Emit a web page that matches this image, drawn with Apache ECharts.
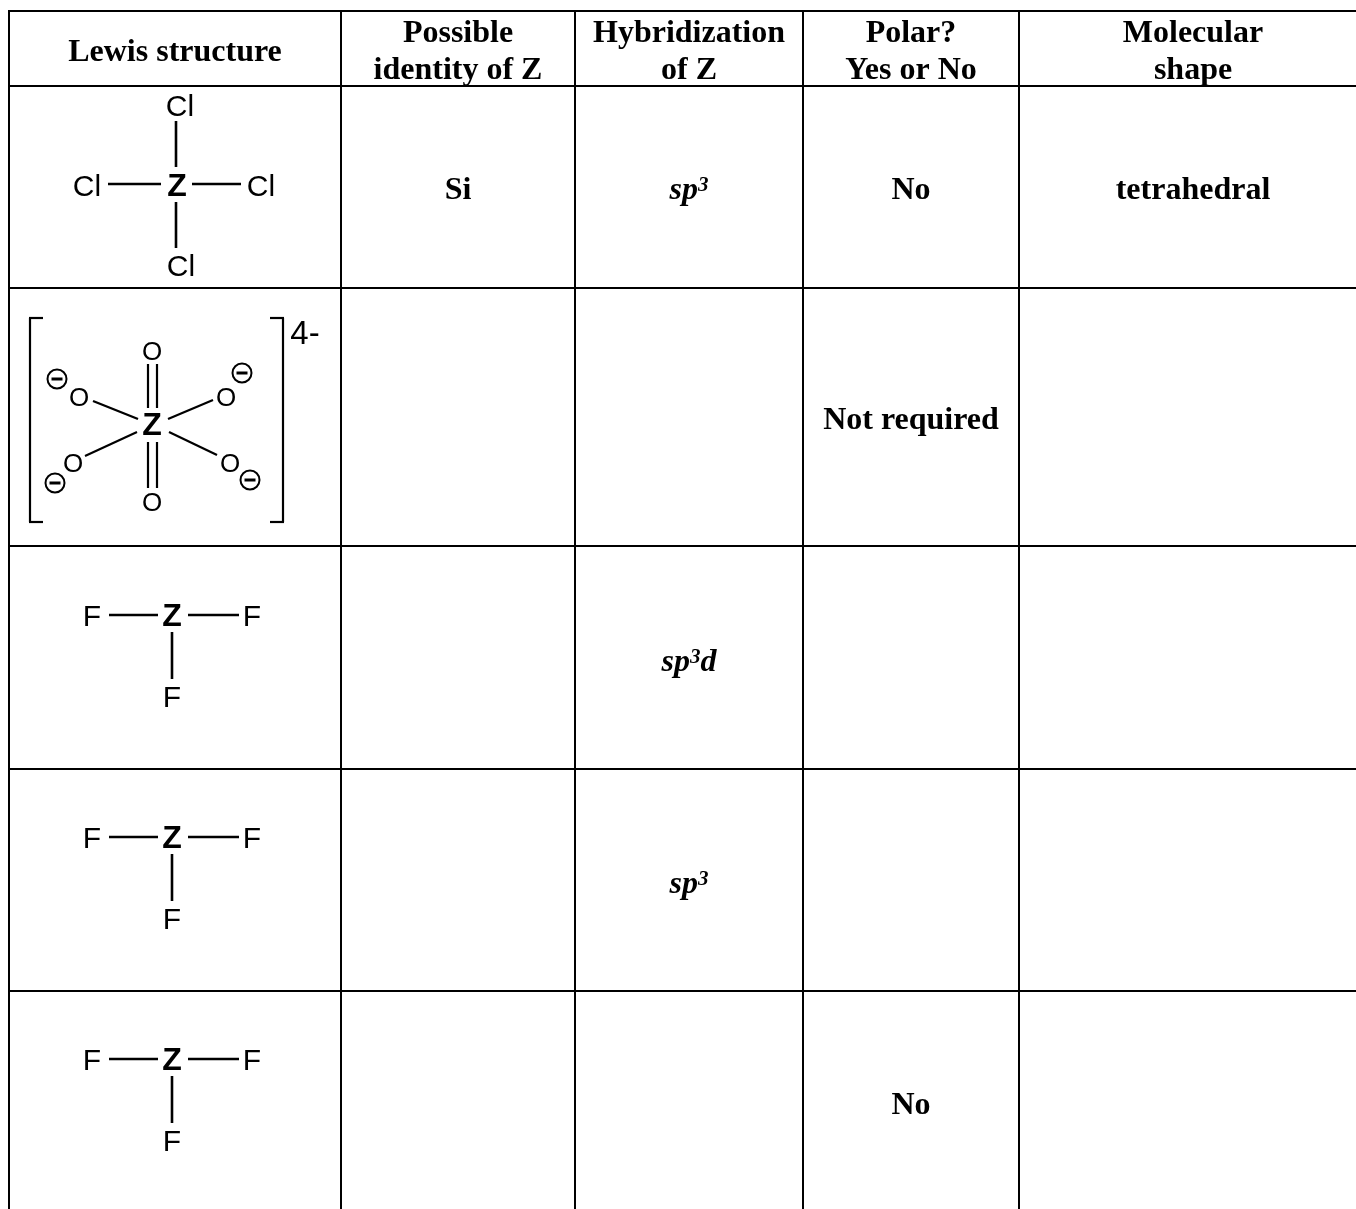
<!DOCTYPE html>
<html>
<head>
<meta charset="utf-8">
<style>html,body{margin:0;padding:0;background:#fff}#chart{width:1356px;height:1209px}</style>
<script src="https://cdn.jsdelivr.net/npm/echarts@6/dist/echarts.min.js"></script>
</head>
<body>
<div id="chart"></div>
<script>
// ---- Table content ----
const headers = [['Lewis structure'], ['Possible', 'identity of Z'], ['Hybridization', 'of Z'], ['Polar?', 'Yes or No'], ['Molecular', 'shape']];
const possibleIdentity = ['Si', '', '', '', ''];
const hybridization = ['sp3', '', 'sp3d', 'sp3', ''];
const polarity = ['No', 'Not required', '', '', 'No'];
const molecularShape = ['tetrahedral', '', '', '', ''];
const chlorideLabels = ['Cl', 'Cl', 'Cl', 'Cl', 'Z'];
const oxoLabels = ['O', 'O', 'O', 'O', 'O', 'O', 'Z'];
const fluorideLabels = ['F', 'F', 'F', 'Z'];
const chargeLabel = '4-';

// ---- Layout (separate from content), in picture units ----
const W = 1356, H = 1209;
const colLines = [9, 341, 575, 803, 1019];
const rowLines = [11, 86, 288, 546, 769, 991];
const colCentres = [175, 458, 689, 911, 1193];
const rowCentres = [191, 421, 663, 885, 1106];
const headerLineY = [34, 71], headerSingleY = 53;
const chloridePos = [[180, 108], [87, 188], [261, 188], [181, 268], [177, 187]];
const chlorideBonds = [[176, 121, 176, 167], [176, 202, 176, 248], [108, 184, 161, 184], [192, 184, 241, 184]];
const oxoPos = [[152, 353], [152, 504], [79, 399], [226, 399], [73, 465], [230, 465], [152, 426]];
const oxoBonds = [[148, 364, 148, 408], [157, 364, 157, 408], [148, 442, 148, 488], [157, 442, 157, 488],
  [93, 401, 138, 419], [168, 419, 213, 400], [85, 456, 137, 432], [169, 432, 217, 455]];
const bracketPaths = [[43, 318, 29, 318], [30, 318, 30, 522], [29, 522, 43, 522], [270, 318, 284, 318], [283, 318, 283, 522], [284, 522, 270, 522]];
const chargeCircles = [[57, 379], [242, 373], [55, 483], [250, 480]];
const chargePos = [305, 335];
const fluorideOffsets = [0, 222, 444];
const fluoridePos = [[92, 618], [252, 618], [172, 699], [172, 617]];
const fluorideBonds = [[109, 615, 158, 615], [188, 615, 239, 615], [172, 632, 172, 679]];

const SERIF = '"Liberation Serif","Times New Roman",serif';
const SANS = '"Liberation Sans",Arial,sans-serif';
const CELL_FONT = 32, SUP_FONT = 21;

// ---- Assemble series rows ----
const gridSegs = [];
colLines.forEach(x => gridSegs.push([x, 10, x, H]));
rowLines.forEach(y => gridSegs.push([8, y, W, y]));

const heavyBonds = [...chlorideBonds];
fluorideOffsets.forEach(d => fluorideBonds.forEach(b => heavyBonds.push([b[0], b[1] + d, b[2], b[3] + d])));
const lightBonds = [...oxoBonds, ...bracketPaths];

const texts = [];
function addAtom(label, p, dy, size) {
  texts.push({ value: [p[0], p[1] + (dy || 0)], text: label, family: SANS, size: label === 'Z' ? 32 : size, weight: label === 'Z' ? 'bold' : 'normal' });
}
headers.forEach((lines, c) => {
  lines.forEach((t, i) => texts.push({ value: [colCentres[c], lines.length === 1 ? headerSingleY : headerLineY[i]], text: t, family: SERIF, size: CELL_FONT, weight: 'bold' }));
});
[possibleIdentity, hybridization, polarity, molecularShape].forEach((col, c) => {
  col.forEach((t, r) => {
    if (!t) return;
    if (col === hybridization) {
      const m = t.match(/^sp3(d?)$/);
      texts.push({ value: [colCentres[c + 1], rowCentres[r]], text: '{i|sp}{s|3}' + (m[1] ? '{i|' + m[1] + '}' : ''), family: SERIF, size: CELL_FONT, weight: 'bold', style: 'italic',
        rich: { i: { font: 'italic bold ' + CELL_FONT + 'px ' + SERIF, fill: '#000', verticalAlign: 'bottom' }, s: { font: 'italic bold ' + SUP_FONT + 'px ' + SERIF, fill: '#000', verticalAlign: 'top' } } });
    } else {
      texts.push({ value: [colCentres[c + 1], rowCentres[r]], text: t, family: SERIF, size: CELL_FONT, weight: 'bold' });
    }
  });
});
chlorideLabels.forEach((l, i) => addAtom(l, chloridePos[i], 0, 30));
oxoLabels.forEach((l, i) => addAtom(l, oxoPos[i], 0, 26));
fluorideOffsets.forEach(d => fluorideLabels.forEach((l, i) => addAtom(l, fluoridePos[i], d, 30)));
texts.push({ value: chargePos, text: chargeLabel, family: SANS, size: 33, weight: 'normal' });

const renderSeg = width => (params, api) => {
  const a = api.coord([api.value(0), api.value(1)]);
  const b = api.coord([api.value(2), api.value(3)]);
  return { type: 'line', shape: { x1: a[0], y1: a[1], x2: b[0], y2: b[1] }, style: { stroke: '#000', lineWidth: width, lineCap: 'butt' } };
};

const option = {
  animation: false,
  backgroundColor: '#fff',
  tooltip: { show: false },
  grid: { left: 0, right: 0, top: 0, bottom: 0 },
  xAxis: { type: 'value', min: 0, max: W, show: false },
  yAxis: { type: 'value', min: 0, max: H, inverse: true, show: false },
  series: [
    { type: 'custom', name: 'table lines', coordinateSystem: 'cartesian2d', silent: true, clip: false, data: gridSegs, encode: { x: [0, 2], y: [1, 3] }, renderItem: renderSeg(2) },
    { type: 'custom', name: 'heavy bonds', coordinateSystem: 'cartesian2d', silent: true, clip: false, data: heavyBonds, encode: { x: [0, 2], y: [1, 3] }, renderItem: renderSeg(2.6) },
    { type: 'custom', name: 'oxo bonds and brackets', coordinateSystem: 'cartesian2d', silent: true, clip: false, data: lightBonds, encode: { x: [0, 2], y: [1, 3] }, renderItem: renderSeg(2.2) },
    { type: 'custom', name: 'charges', coordinateSystem: 'cartesian2d', silent: true, clip: false, data: chargeCircles, encode: { x: 0, y: 1 },
      renderItem(params, api) {
        const c = api.coord([api.value(0), api.value(1)]);
        return { type: 'group', children: [
          { type: 'circle', shape: { cx: c[0], cy: c[1], r: 9.5 }, style: { fill: 'none', stroke: '#000', lineWidth: 2 } },
          { type: 'line', shape: { x1: c[0] - 5.5, y1: c[1], x2: c[0] + 5.5, y2: c[1] }, style: { stroke: '#000', lineWidth: 3 } }
        ] };
      } },
    { type: 'custom', name: 'text', coordinateSystem: 'cartesian2d', silent: true, clip: false, data: texts, encode: { x: 0, y: 1 },
      renderItem(params, api) {
        const t = texts[params.dataIndex];
        const c = api.coord([api.value(0), api.value(1)]);
        const style = { x: c[0], y: c[1], text: t.text, align: 'center', verticalAlign: 'middle', fill: '#000',
          font: (t.style ? t.style + ' ' : '') + t.weight + ' ' + t.size + 'px ' + t.family };
        if (t.rich) style.rich = t.rich;
        return { type: 'text', style };
      } }
  ]
};
const chart = echarts.init(document.getElementById('chart'), null, { renderer: 'canvas' });
chart.setOption(option);
</script>
</body>
</html>
